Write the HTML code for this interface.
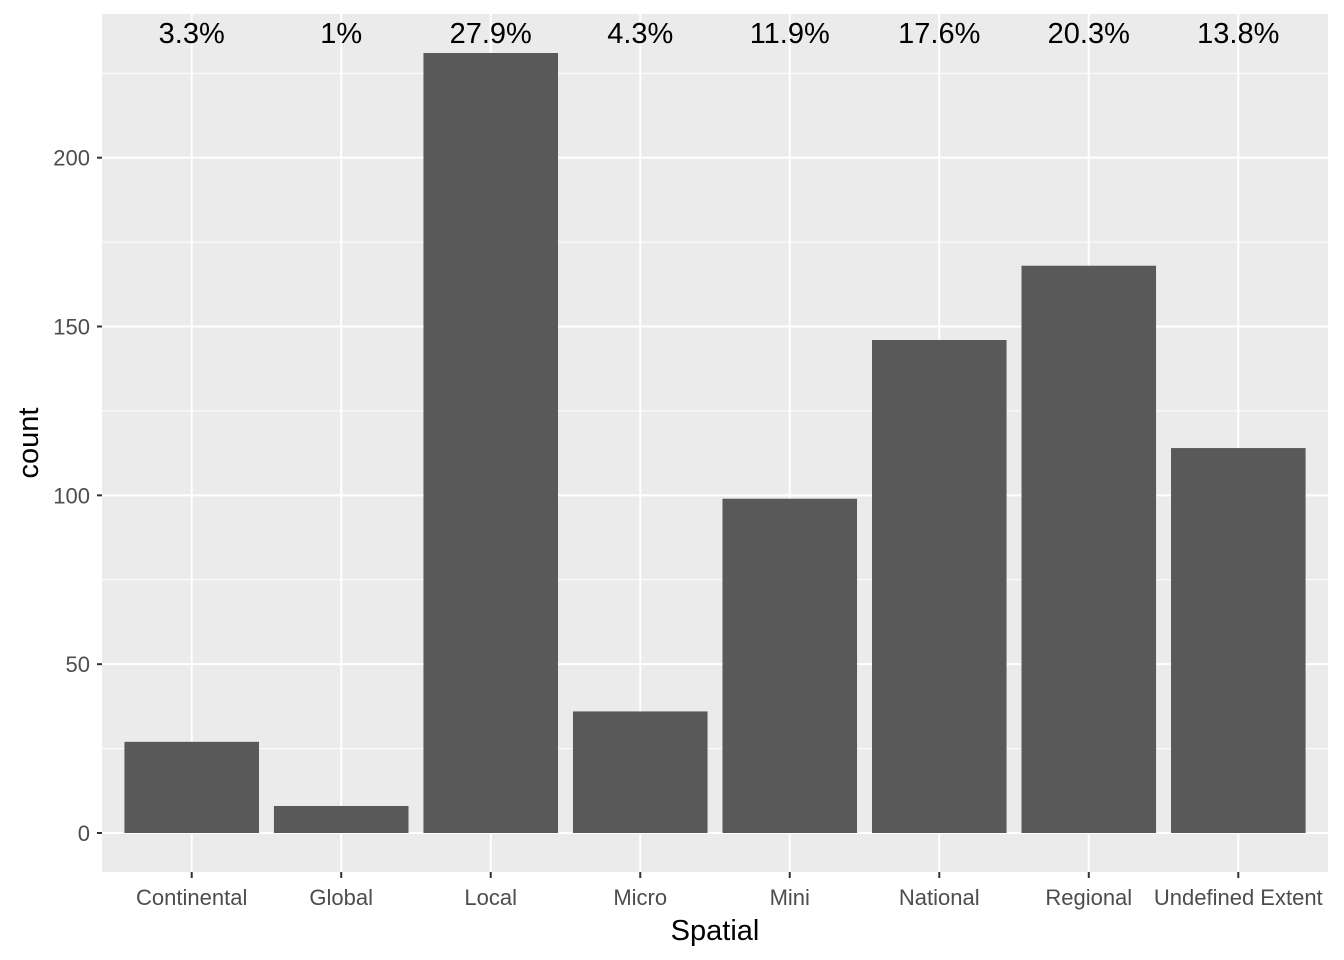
<!DOCTYPE html>
<html><head><meta charset="utf-8"><style>
body{margin:0;background:#fff}
svg{display:block;font-family:"Liberation Sans",Arial,sans-serif}
</style></head><body>
<svg id="chart" width="1344" height="960"></svg>
<script>
const categories=["Continental","Global","Local","Micro","Mini","National","Regional","Undefined Extent"];
const counts=[27,8,231,36,99,146,168,114];
const yTicks=[0,50,100,150,200];
const NS="http://www.w3.org/2000/svg";
const svg=document.getElementById("chart");
const L=102,R=1328,T=14,B=872;
const maxC=Math.max(...counts);
const yMin=-0.05*maxC,yMax=maxC*1.05;
const y=v=>B-(v-yMin)/(yMax-yMin)*(B-T);
const step=(R-L)/(categories.length-1+1.2);
const x=i=>L+0.6*step+i*step;
const bw=step*0.9;
function mk(tag,attrs,parent){const e=document.createElementNS(NS,tag);for(const k in attrs)e.setAttribute(k,attrs[k]);(parent||svg).appendChild(e);return e;}
const panel=mk("rect",{x:L,y:T,width:R-L,height:B-T,fill:"#ebebeb"});


for(let i=0;i<yTicks.length-1;i++){const m=(yTicks[i]+yTicks[i+1])/2;const g=mk("line",{x1:L,x2:R,y1:y(m),y2:y(m),stroke:"#fff","stroke-width":1});

}
{const m=yTicks[yTicks.length-1]+25;if(m<yMax){const g=mk("line",{x1:L,x2:R,y1:y(m),y2:y(m),stroke:"#fff","stroke-width":1});

}}
yTicks.forEach(t=>{const g=mk("line",{x1:L,x2:R,y1:y(t),y2:y(t),stroke:"#fff","stroke-width":2});


const tk=mk("line",{x1:L-5,x2:L,y1:y(t),y2:y(t),stroke:"#333","stroke-width":2});


const lb=mk("text",{x:L-12,y:y(t)+8,"text-anchor":"end","font-size":22,fill:"#4d4d4d"});lb.textContent=t;

});
const total=counts.reduce((a,b)=>a+b,0);
categories.forEach((c,i)=>{const g=mk("line",{x1:x(i),x2:x(i),y1:T,y2:B,stroke:"#fff","stroke-width":2});

});
categories.forEach((c,i)=>{
const b=mk("rect",{x:x(i)-bw/2,y:y(counts[i]),width:bw,height:y(0)-y(counts[i]),fill:"#595959"});


const p=mk("text",{x:x(i),y:43,"text-anchor":"middle","font-size":29,fill:"#000"});
p.textContent=(Math.round(counts[i]/total*1000)/10)+"%";


const tk=mk("line",{x1:x(i),x2:x(i),y1:B,y2:B+6,stroke:"#333","stroke-width":2});


const lb=mk("text",{x:x(i),y:905,"text-anchor":"middle","font-size":22,fill:"#4d4d4d"});lb.textContent=c;


});
const xt=mk("text",{x:(L+R)/2,y:940,"text-anchor":"middle","font-size":29,fill:"#000"});xt.textContent="Spatial";


const yt=mk("text",{x:0,y:0,"text-anchor":"middle","font-size":29,fill:"#000",transform:"translate(38,"+((T+B)/2)+") rotate(-90)"});yt.textContent="count";


</script>
</body></html>
